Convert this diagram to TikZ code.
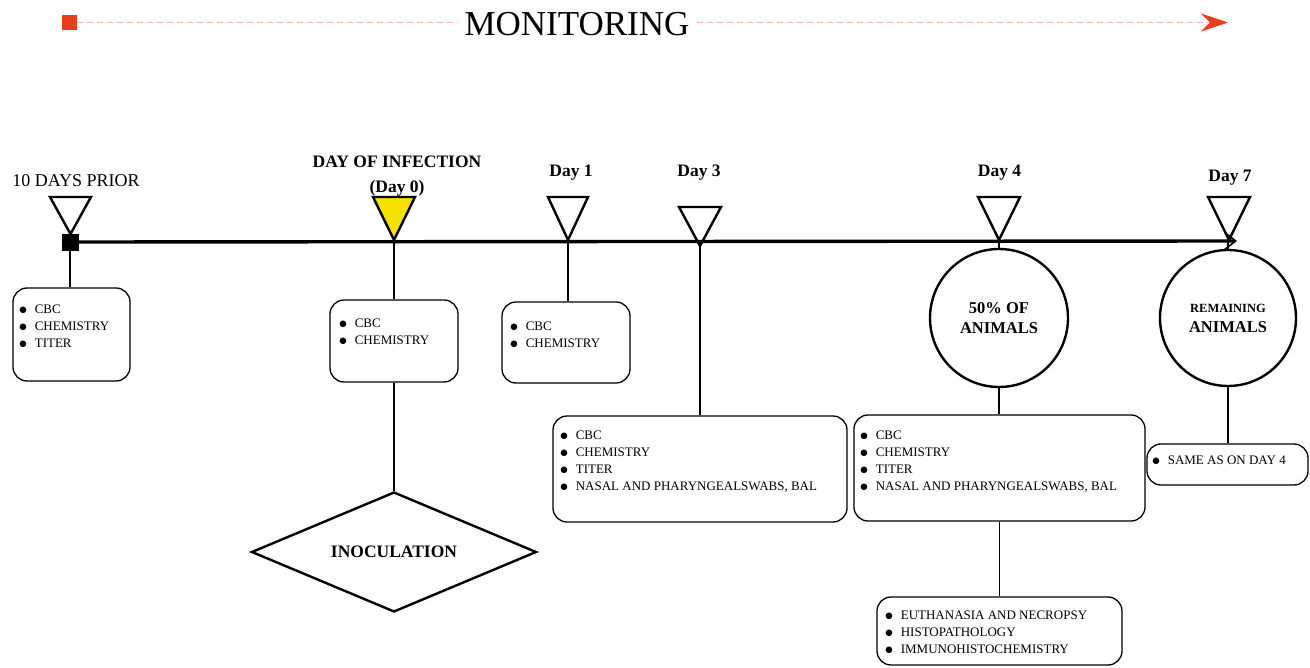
\documentclass[tikz,border=0pt]{standalone}
\usepackage{fontspec}
\setmainfont{Liberation Serif}
\newfontfamily\djv{DejaVu Sans}
\usetikzlibrary{arrows.meta,shapes.geometric}
\definecolor{monred}{RGB}{232,64,28}
\definecolor{monline}{RGB}{244,185,164}
\definecolor{dayyellow}{RGB}{245,225,0}
\newcommand{\itm}{{\djv\fontsize{8.5}{8.5}\selectfont\raisebox{0.6pt}{●}}\hspace{8pt}}
\newcommand{\fst}{\rule{0pt}{10pt}}
\begin{document}
\begin{tikzpicture}[x=1pt,y=-1pt,
  box/.style={draw, line width=1.3pt, rounded corners=14pt, inner sep=0pt},
  list/.style={anchor=north west, align=left, inner sep=0pt, font=\fontsize{13}{17}\selectfont},
  conn/.style={line width=1.3pt},
  tri/.style={draw, line width=2.4pt, line join=miter},
  lab/.style={anchor=base, inner sep=0pt, font=\bfseries\fontsize{17.5}{20}\selectfont},
  bigshape/.style={draw, line width=2.4pt, inner sep=0pt, align=center}
]
\useasboundingbox (0,0) rectangle (1310,668);

% --- monitoring bar ---
\node[fill=monred, minimum size=15pt, inner sep=0pt] (msq) at (69,22.5) {};
\coordinate (mend) at (1228,22.5);
\draw[monline, line width=1.3pt, dash pattern=on 6pt off 4pt,
  -{Stealth[length=27pt,width=18pt,inset=9pt,color=monred]}] (msq.east) -- (mend);
\node[fill=white, inner xsep=7pt, inner ysep=2pt, anchor=base, font=\fontsize{35}{40}\selectfont] (mon) at (577,36) {MONITORING};

% --- time line ---
\node[fill=black, draw=black, minimum size=16pt, inner sep=0pt] (sq) at (70,242) {};
\coordinate (tend) at (1237,241);
\draw[line width=3.4pt, -{Straight Barb[length=11pt,width=17pt,line width=1.6pt]}] (sq.east) -- (tend);

% --- triangles ---
\draw[tri] (50,197) -- (91,197) -- (70.5,234) -- cycle;
\draw[tri, fill=dayyellow] (373,197) -- (415,197) -- (394,240) -- cycle;
\coordinate (a0) at (394,241);
\draw[tri] (548,197) -- (588,197) -- (568,240) -- cycle;
\coordinate (a1) at (568,241);
\draw[tri] (679,207) -- (721,207) -- (700,246) -- cycle;
\coordinate (a3) at (700,246);
\draw[tri] (978,197) -- (1020,197) -- (999,240) -- cycle;
\coordinate (a4) at (999,241);
\draw[tri] (1208,197) -- (1250,197) -- (1229,240) -- cycle;
\coordinate (a7) at (1228,241);

% --- labels ---
\node[anchor=base, inner sep=0pt, font=\fontsize{18}{20}\selectfont] (l10) at (76,187) {10 DAYS PRIOR};
\node[lab] (l0a) at (397,168) {DAY OF INFECTION};
\node[lab] (l0b) at (397,193) {(Day 0)};
\node[lab] (l1) at (571,177) {Day 1};
\node[lab] (l3) at (699,177) {Day 3};
\node[lab] (l4) at (999.5,177) {Day 4};
\node[lab] (l7) at (1230,182) {Day 7};

% --- boxes ---
\node[box, minimum width=117pt, minimum height=93pt] (b1) at (71.5,334.5) {};
\node[box, minimum width=128pt, minimum height=82pt] (b2) at (394,341) {};
\node[box, minimum width=128pt, minimum height=81pt] (b3) at (566,342.5) {};
\node[box, minimum width=294pt, minimum height=106pt] (b4) at (700,469) {};
\node[box, minimum width=291pt, minimum height=106pt] (b5) at (999.5,468) {};
\node[box, minimum width=161pt, minimum height=41pt] (b6) at (1227.5,464.5) {};
\node[box, minimum width=245pt, minimum height=68pt] (b7) at (999.5,631) {};

\node[list] (t1) at (19.2,303.3) {\fst\itm CBC\\\itm CHEMISTRY\\\itm TITER};
\node[list] (t2) at (339.2,317.3) {\fst\itm CBC\\\itm CHEMISTRY};
\node[list] (t3) at (510.2,320.3) {\fst\itm CBC\\\itm CHEMISTRY};
\node[list] (t4) at (560.2,429.3) {\fst\itm CBC\\\itm CHEMISTRY\\\itm TITER\\\itm NASAL AND PHARYNGEALSWABS, BAL};
\node[list] (t5) at (860.2,429.3) {\fst\itm CBC\\\itm CHEMISTRY\\\itm TITER\\\itm NASAL AND PHARYNGEALSWABS, BAL};
\node[list] (t6) at (1152.2,454.3) {\fst\itm SAME AS ON DAY 4};
\node[list] (t7) at (885.2,609.3) {\fst\itm EUTHANASIA AND NECROPSY\\\itm HISTOPATHOLOGY\\\itm IMMUNOHISTOCHEMISTRY};

% --- circles and diamond ---
\node[bigshape, circle, minimum size=138pt, font=\bfseries\fontsize{16.5}{20}\selectfont] (c4) at (999,318) {50\% OF\\ANIMALS};
\node[bigshape, circle, minimum size=136pt, font=\bfseries\fontsize{16.5}{20}\selectfont] (c7) at (1228,318) {{\fontsize{12.5}{15}\selectfont REMAINING}\\ANIMALS};
\node[bigshape, diamond, aspect=2.4, minimum width=285pt, minimum height=120pt, font=\bfseries\fontsize{17.5}{20}\selectfont] (dia) at (394,552) {INOCULATION};

% --- connectors ---
\draw[conn] (sq.south) -- (sq.south |- b1.north);
\draw[conn] (a0) -- (b2.north);
\draw[conn] (b2.south) -- (dia.north);
\draw[conn] (a1) -- (a1 |- b3.north);
\draw[conn] (a3) -- (b4.north);
\draw[conn] (a4) -- (c4.north);
\draw[conn] (c4.south) -- (c4.south |- b5.north);
\draw[conn] (b5.south) -- (b5.south |- b7.north);
\draw[conn] (a7) -- (c7.north);
\draw[conn] (c7.south) -- (c7.south |- b6.north);
\end{tikzpicture}
\end{document}
